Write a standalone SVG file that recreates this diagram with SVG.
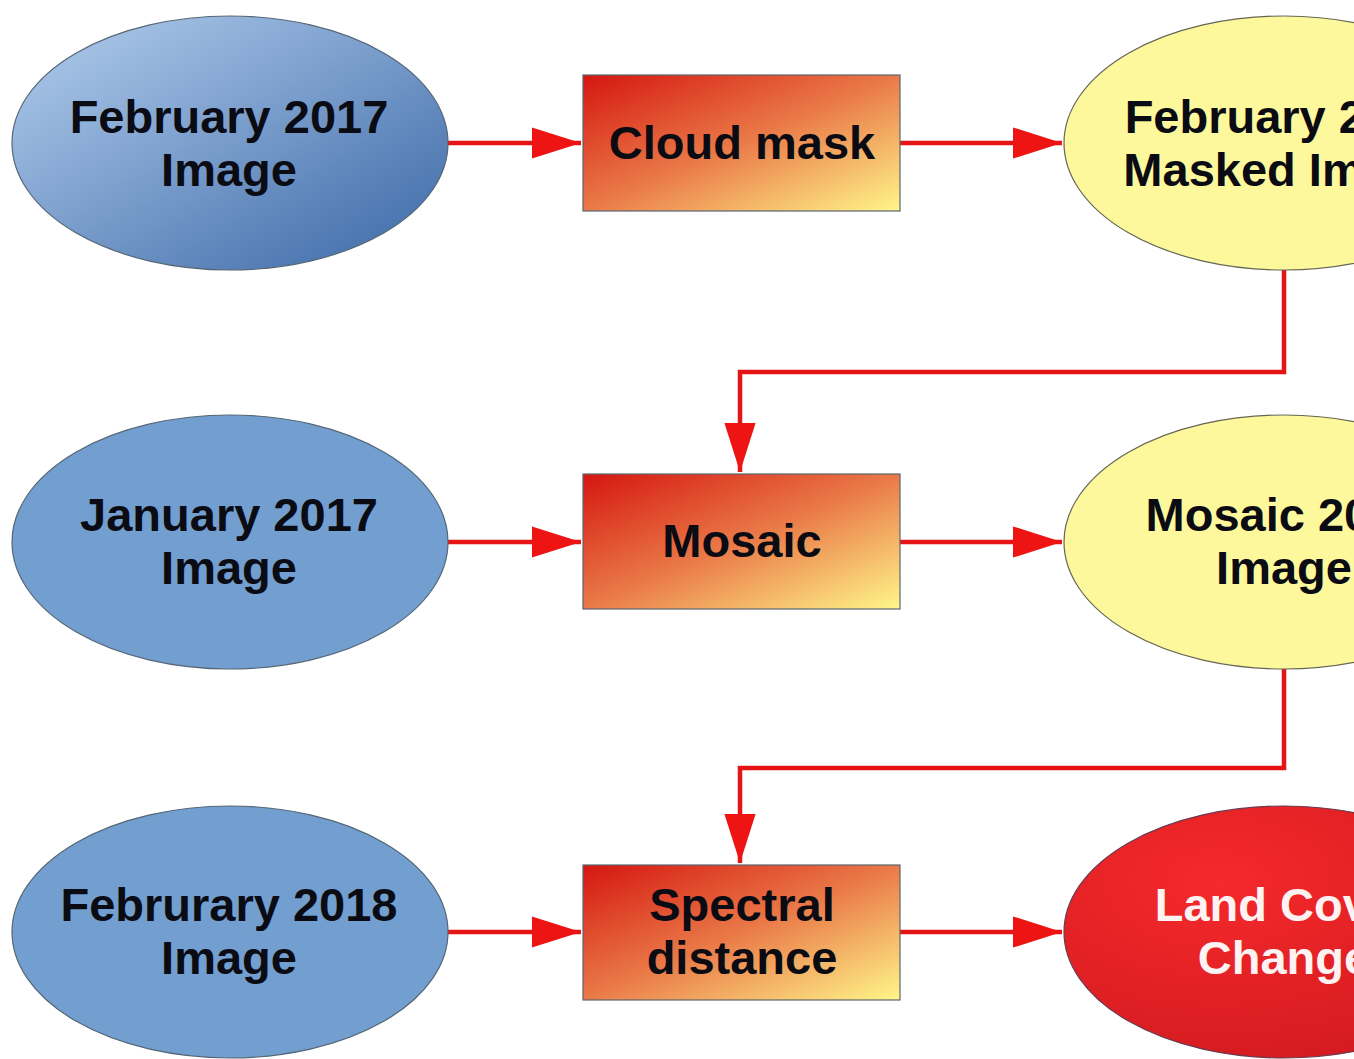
<svg xmlns="http://www.w3.org/2000/svg" width="1354" height="1059" viewBox="0 0 1354 1059">
<defs>
<linearGradient id="gBlue" x1="0" y1="0" x2="1" y2="1">
<stop offset="0" stop-color="#b4cfee"/>
<stop offset="1" stop-color="#3a67a6"/>
</linearGradient>
<linearGradient id="gRect" x1="0" y1="0" x2="1" y2="1">
<stop offset="0" stop-color="#d51610"/>
<stop offset="0.5" stop-color="#ea7a48"/>
<stop offset="1" stop-color="#fff68a"/>
</linearGradient>
<radialGradient id="gRed" cx="0.35" cy="0.3" r="0.8">
<stop offset="0" stop-color="#f5292b"/>
<stop offset="1" stop-color="#d21a1f"/>
</radialGradient>
<marker id="ah" viewBox="0 0 11 7" refX="11" refY="3.5" markerWidth="11" markerHeight="7" markerUnits="strokeWidth" orient="auto">
<path d="M0,0 L11,3.5 L0,7 Z" fill="#ee1414"/>
</marker>
</defs>
<style>
.conn{fill:none;stroke:#e61414;stroke-width:4.5;}
.bl{fill:#729fcf;stroke:#556677;stroke-width:1.2;}
.yl{fill:#fdf89c;stroke:#666655;stroke-width:1.2;}
.bx{fill:url(#gRect);stroke:#5a6470;stroke-width:1.2;}
.t{font-family:"Liberation Sans",Arial,sans-serif;font-weight:bold;font-size:47px;text-anchor:middle;fill:#0b0b14;}
.w{fill:#fff2f2;}
</style>
<rect width="1354" height="1059" fill="#ffffff"/>
<g id="connectors">
<path class="conn" d="M448,143 L581,143" marker-end="url(#ah)"/>
<path class="conn" d="M900,143 L1062,143" marker-end="url(#ah)"/>
<path class="conn" d="M1284,270 L1284,372 L740,372 L740,472" marker-end="url(#ah)"/>
<path class="conn" d="M448,542 L581,542" marker-end="url(#ah)"/>
<path class="conn" d="M900,542 L1062,542" marker-end="url(#ah)"/>
<path class="conn" d="M1284,669 L1284,768 L740,768 L740,863" marker-end="url(#ah)"/>
<path class="conn" d="M448,932 L581,932" marker-end="url(#ah)"/>
<path class="conn" d="M900,932 L1062,932" marker-end="url(#ah)"/>
</g>
<g id="feb2017">
<ellipse cx="230" cy="143" rx="218" ry="127" fill="url(#gBlue)" stroke="#556677" stroke-width="1.2"/>
<text class="t" x="229" y="133">February 2017</text>
<text class="t" x="229" y="186">Image</text>
</g>
<g id="cloudmask">
<rect class="bx" x="583" y="75" width="317" height="136"/>
<text class="t" x="742" y="159">Cloud mask</text>
</g>
<g id="febmasked">
<ellipse class="yl" cx="1284" cy="143" rx="220" ry="127"/>
<text class="t" x="1284" y="133">February 2017</text>
<text class="t" x="1284" y="186">Masked Image</text>
</g>
<g id="jan2017">
<ellipse class="bl" cx="230" cy="542" rx="218" ry="127"/>
<text class="t" x="229" y="531">January 2017</text>
<text class="t" x="229" y="584">Image</text>
</g>
<g id="mosaic">
<rect class="bx" x="583" y="474" width="317" height="135"/>
<text class="t" x="742" y="557">Mosaic</text>
</g>
<g id="mosaic2017">
<ellipse class="yl" cx="1284" cy="542" rx="220" ry="127"/>
<text class="t" x="1284" y="531">Mosaic 2017</text>
<text class="t" x="1284" y="584">Image</text>
</g>
<g id="feb2018">
<ellipse class="bl" cx="230" cy="932" rx="218" ry="126"/>
<text class="t" x="229" y="921">Februrary 2018</text>
<text class="t" x="229" y="974">Image</text>
</g>
<g id="spectral">
<rect class="bx" x="583" y="865" width="317" height="135"/>
<text class="t" x="742" y="921">Spectral</text>
<text class="t" x="742" y="974">distance</text>
</g>
<g id="landcover">
<ellipse cx="1284" cy="932" rx="220" ry="126" fill="url(#gRed)" stroke="#6a3a50" stroke-width="1.2"/>
<text class="t w" x="1284" y="921">Land Cover</text>
<text class="t w" x="1284" y="974">Change</text>
</g>
</svg>
